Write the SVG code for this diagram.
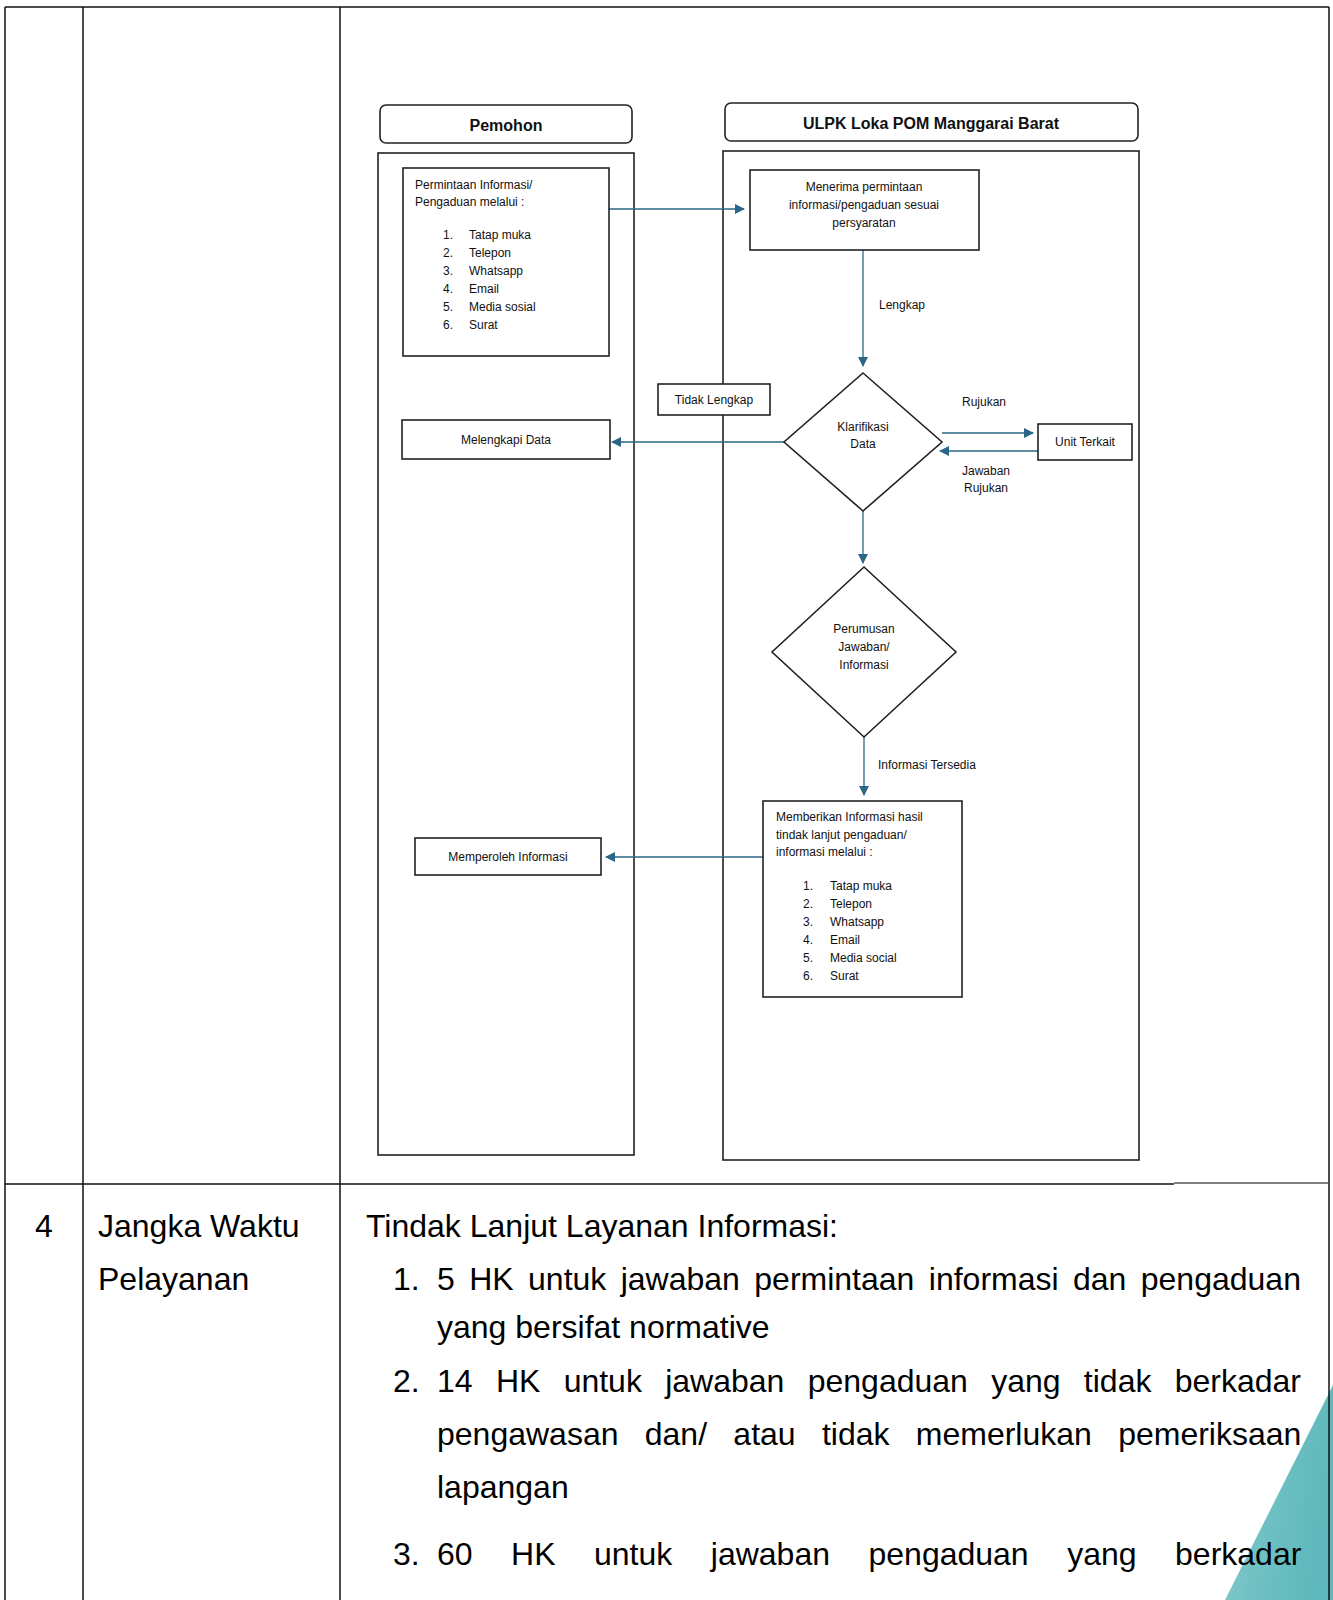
<svg xmlns="http://www.w3.org/2000/svg" width="1333" height="1600" viewBox="0 0 1333 1600">
  <defs>
    <marker id="arr" viewBox="0 0 10 10" refX="9" refY="5" markerWidth="10" markerHeight="10" markerUnits="userSpaceOnUse" orient="auto">
      <path d="M0,0 L10,5 L0,10 Z" fill="#2b6686"/>
    </marker>
    <linearGradient id="teal" x1="0" y1="0" x2="1" y2="0.3">
      <stop offset="0" stop-color="#eef8f8"/>
      <stop offset="0.15" stop-color="#80c9cb"/>
      <stop offset="0.6" stop-color="#6cbfc2"/>
      <stop offset="1" stop-color="#5fb8bc"/>
    </linearGradient>
    <style>
      .tbl { stroke: #111; stroke-width: 1.5; fill: none; }
      .box { fill: #fff; stroke: #222; stroke-width: 1.6; }
      .lane { fill: none; stroke: #222; stroke-width: 1.6; }
      .con { stroke: #2b6686; stroke-width: 1.3; fill: none; marker-end: url(#arr); }
      .t { font-family: "Liberation Sans", Arial, sans-serif; font-size: 12px; fill: #111; }
      .c { text-anchor: middle; }
      .h { font-family: "Liberation Sans", Arial, sans-serif; font-size: 16px; font-weight: bold; fill: #111; text-anchor: middle; }
      .big { font-family: "Liberation Sans", Arial, sans-serif; font-size: 32px; fill: #000; }
    </style>
  </defs>
  <rect x="0" y="0" width="1333" height="1600" fill="#fff"/>

  <!-- decorative teal corner -->
  <polygon points="1333,1385 1333,1600 1225,1600" fill="url(#teal)"/>

  <!-- table -->
  <g id="table">
    <line class="tbl" x1="5" y1="7" x2="1329" y2="7"/>
    <line class="tbl" x1="5" y1="7" x2="5" y2="1600"/>
    <line class="tbl" x1="83" y1="7" x2="83" y2="1600"/>
    <line class="tbl" x1="340" y1="7" x2="340" y2="1600"/>
    <line class="tbl" x1="1329" y1="7" x2="1329" y2="1600"/>
    <line class="tbl" x1="5" y1="1184" x2="1174" y2="1184"/>
    <line x1="1174" y1="1183" x2="1329" y2="1183" stroke="#555" stroke-width="1.5"/>
  </g>

  <!-- lanes -->
  <g id="lane-pemohon">
    <rect class="box" x="380" y="105" width="252" height="38" rx="6"/>
    <text class="h" x="506" y="131">Pemohon</text>
    <rect class="lane" x="378" y="153" width="256" height="1002"/>
  </g>
  <g id="lane-ulpk">
    <rect class="box" x="725" y="103" width="413" height="38" rx="6"/>
    <text class="h" x="931" y="129">ULPK Loka POM Manggarai Barat</text>
    <rect class="lane" x="723" y="151" width="416" height="1009"/>
  </g>

  <!-- connectors -->
  <g id="connectors">
    <line class="con" x1="609" y1="209" x2="744" y2="209"/>
    <line class="con" x1="863" y1="250" x2="863" y2="366"/>
    <line class="con" x1="784" y1="442" x2="612" y2="442"/>
    <line class="con" x1="942" y1="433" x2="1033" y2="433"/>
    <line class="con" x1="1038" y1="451" x2="940" y2="451"/>
    <line class="con" x1="863" y1="511" x2="863" y2="563"/>
    <line class="con" x1="864" y1="737" x2="864" y2="795"/>
    <line class="con" x1="763" y1="857" x2="606" y2="857"/>
  </g>
  <g id="connector-labels">
    <text class="t" x="879" y="309">Lengkap</text>
    <text class="t c" x="984" y="406">Rujukan</text>
    <text class="t c" x="986" y="475">Jawaban</text>
    <text class="t c" x="986" y="492">Rujukan</text>
    <text class="t" x="878" y="769">Informasi Tersedia</text>
  </g>

  <!-- nodes -->
  <g id="permintaan">
    <rect class="box" x="403" y="168" width="206" height="188"/>
    <text class="t" x="415" y="189">Permintaan Informasi/</text>
    <text class="t" x="415" y="206">Pengaduan melalui :</text>
    <text class="t" x="443" y="239">1.</text><text class="t" x="469" y="239">Tatap muka</text>
    <text class="t" x="443" y="257">2.</text><text class="t" x="469" y="257">Telepon</text>
    <text class="t" x="443" y="275">3.</text><text class="t" x="469" y="275">Whatsapp</text>
    <text class="t" x="443" y="293">4.</text><text class="t" x="469" y="293">Email</text>
    <text class="t" x="443" y="311">5.</text><text class="t" x="469" y="311">Media sosial</text>
    <text class="t" x="443" y="329">6.</text><text class="t" x="469" y="329">Surat</text>
  </g>
  <g id="menerima">
    <rect class="box" x="750" y="170" width="229" height="80"/>
    <text class="t c" x="864" y="191">Menerima permintaan</text>
    <text class="t c" x="864" y="209">informasi/pengaduan sesuai</text>
    <text class="t c" x="864" y="227">persyaratan</text>
  </g>
  <g id="tidak-lengkap">
    <rect class="box" x="658" y="384" width="112" height="31"/>
    <text class="t c" x="714" y="404">Tidak Lengkap</text>
  </g>
  <g id="klarifikasi">
    <polygon class="box" points="863,373 942,442 863,511 784,442"/>
    <text class="t c" x="863" y="431">Klarifikasi</text>
    <text class="t c" x="863" y="448">Data</text>
  </g>
  <g id="unit-terkait">
    <rect class="box" x="1038" y="424" width="94" height="36"/>
    <text class="t c" x="1085" y="446">Unit Terkait</text>
  </g>
  <g id="melengkapi">
    <rect class="box" x="402" y="420" width="208" height="39"/>
    <text class="t c" x="506" y="444">Melengkapi Data</text>
  </g>
  <g id="perumusan">
    <polygon class="box" points="864,567 956,652 864,737 772,652"/>
    <text class="t c" x="864" y="633">Perumusan</text>
    <text class="t c" x="864" y="651">Jawaban/</text>
    <text class="t c" x="864" y="669">Informasi</text>
  </g>
  <g id="memberikan">
    <rect class="box" x="763" y="801" width="199" height="196"/>
    <text class="t" x="776" y="821">Memberikan Informasi hasil</text>
    <text class="t" x="776" y="839">tindak lanjut pengaduan/</text>
    <text class="t" x="776" y="856">informasi melalui :</text>
    <text class="t" x="803" y="890">1.</text><text class="t" x="830" y="890">Tatap muka</text>
    <text class="t" x="803" y="908">2.</text><text class="t" x="830" y="908">Telepon</text>
    <text class="t" x="803" y="926">3.</text><text class="t" x="830" y="926">Whatsapp</text>
    <text class="t" x="803" y="944">4.</text><text class="t" x="830" y="944">Email</text>
    <text class="t" x="803" y="962">5.</text><text class="t" x="830" y="962">Media social</text>
    <text class="t" x="803" y="980">6.</text><text class="t" x="830" y="980">Surat</text>
  </g>
  <g id="memperoleh">
    <rect class="box" x="415" y="838" width="186" height="37"/>
    <text class="t c" x="508" y="861">Memperoleh Informasi</text>
  </g>

  <!-- bottom row -->
  <g id="row4">
    <text class="big" x="44" y="1237" text-anchor="middle">4</text>
    <text class="big" x="98" y="1237">Jangka Waktu</text>
    <text class="big" x="98" y="1290">Pelayanan</text>
    <text class="big" x="366" y="1237">Tindak Lanjut Layanan Informasi:</text>
    <text class="big" x="393" y="1290">1.</text>
    <text class="big" x="437" y="1290" word-spacing="5.5">5 HK untuk jawaban permintaan informasi dan pengaduan</text>
    <text class="big" x="437" y="1338">yang bersifat normative</text>
    <text class="big" x="393" y="1392">2.</text>
    <text class="big" x="437" y="1392" word-spacing="14.4">14 HK untuk jawaban pengaduan yang tidak berkadar</text>
    <text class="big" x="437" y="1445" word-spacing="17.4">pengawasan dan/ atau tidak memerlukan pemeriksaan</text>
    <text class="big" x="437" y="1498">lapangan</text>
    <text class="big" x="393" y="1565">3.</text>
    <text class="big" x="437" y="1565" word-spacing="29.6">60 HK untuk jawaban pengaduan yang berkadar</text>
  </g>
</svg>
